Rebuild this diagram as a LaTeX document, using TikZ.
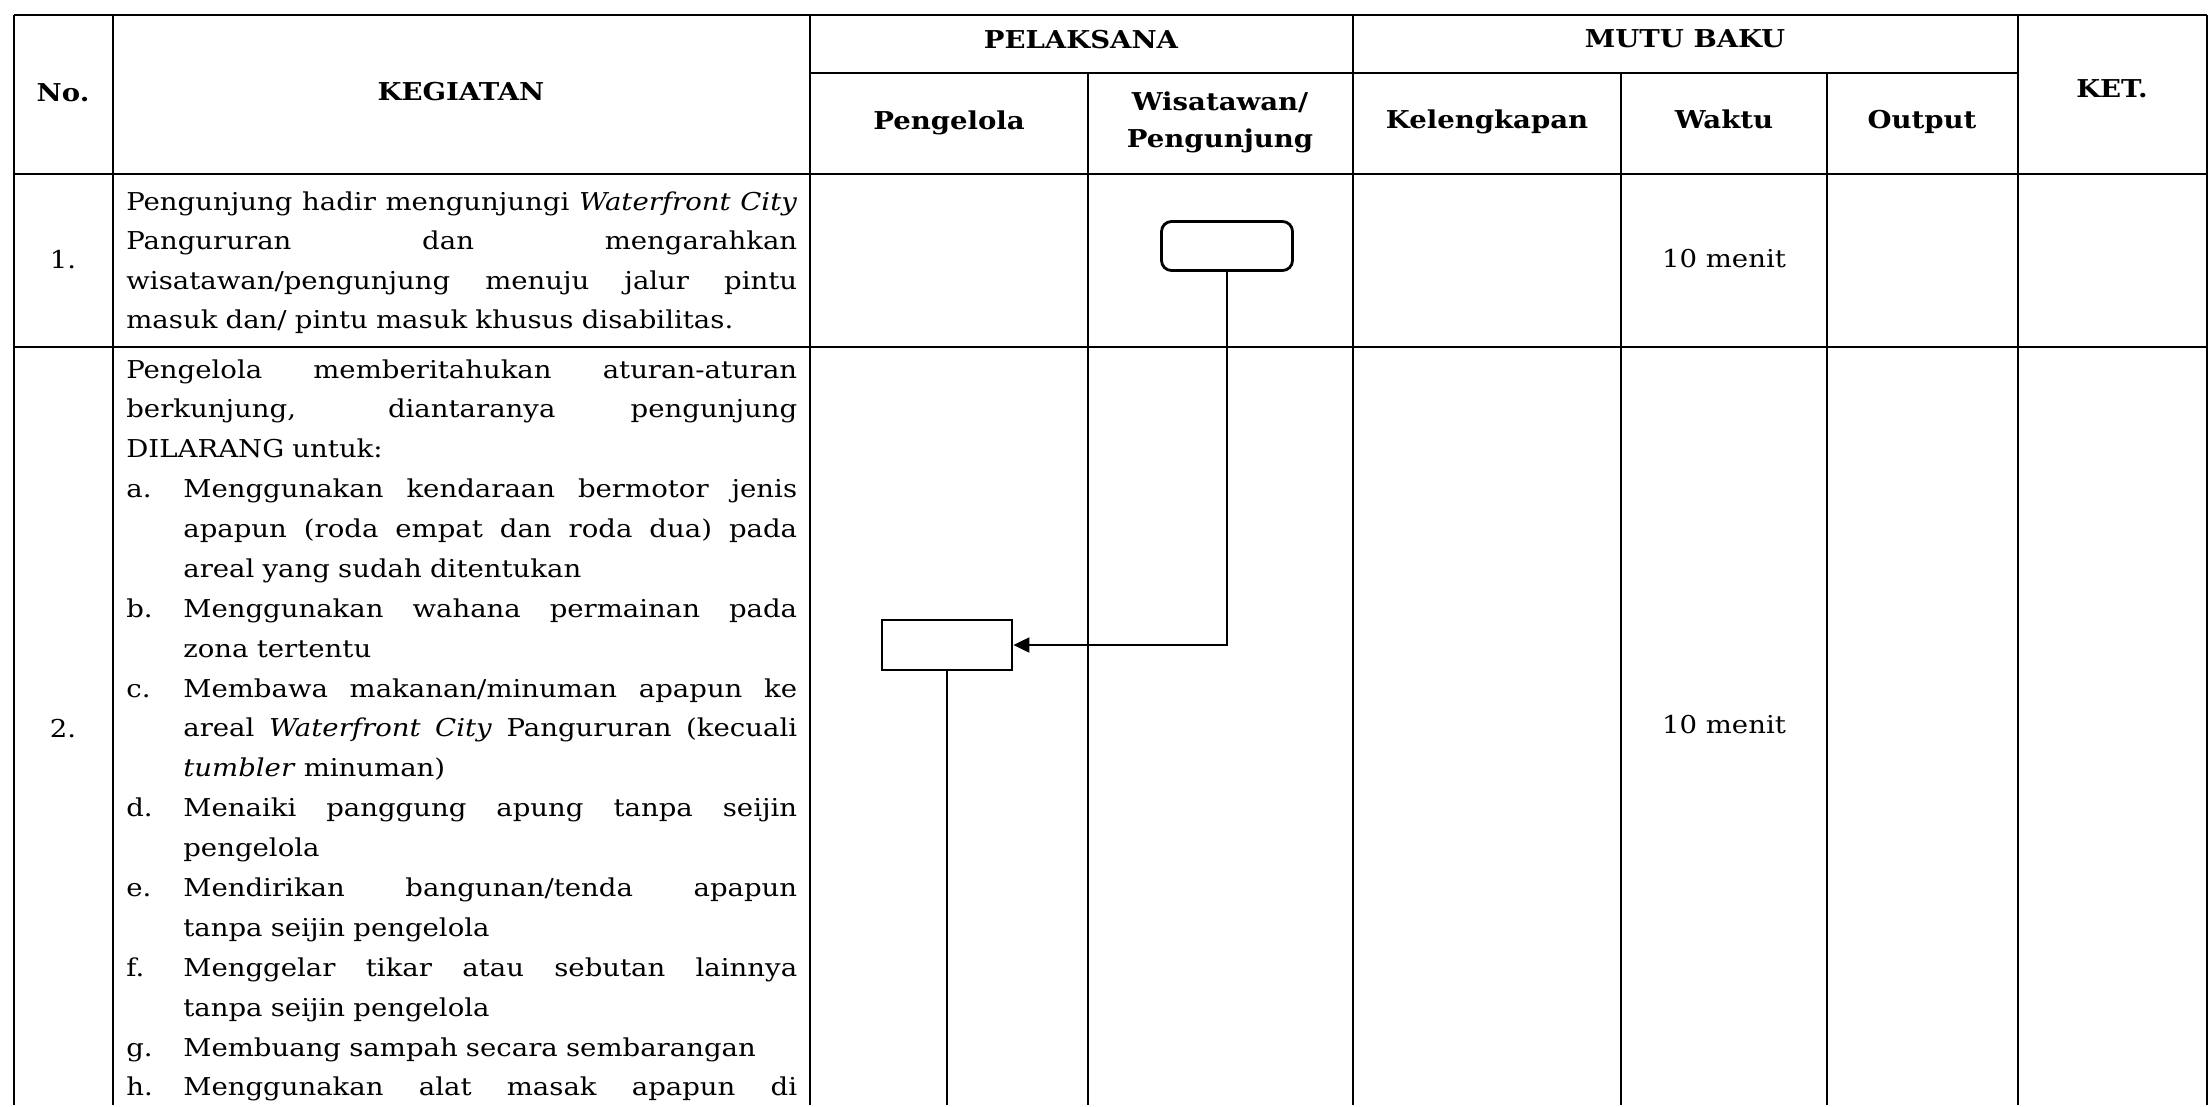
\documentclass[tikz,border=0pt]{standalone}
\usepackage{fontspec}
\setmainfont{DejaVu Serif}[FakeStretch=1.12]
\usetikzlibrary{arrows.meta}

\newcommand{\jline}[1]{\makebox[\linewidth][s]{\spaceskip=\fontdimen2\font plus 1fil\relax#1}}
\newcommand{\itemlab}[1]{\makebox[1.14cm][l]{#1}}
\newcommand{\itemjust}[1]{\makebox[12.28cm][s]{\spaceskip=\fontdimen2\font plus 1fil\relax#1}}
\newcommand{\itemgap}{\hspace*{1.14cm}}

\begin{document}
\begin{tikzpicture}[x=0.02cm, y=-0.02cm,
    tbl/.style={line width=1pt},
    head/.style={font={\fontsize{14}{21.5}\selectfont\bfseries}, anchor=base, inner sep=0pt},
    body/.style={anchor=base west, inner sep=0pt, text width=13.42cm},
    cell/.style={font={\fontsize{14}{22.7}\selectfont}, anchor=base, inner sep=0pt},
    terminal/.style={draw, line width=1.6pt, rounded corners=0.2cm, minimum width=2.62cm, minimum height=0.98cm, inner sep=0pt},
    process/.style={draw, line width=1.6pt, minimum width=2.6cm, minimum height=1cm, inner sep=0pt},
    flow/.style={line width=1.2pt}]

    \fill[white] (0,0) rectangle (2210,1105);

    % Table grid
    \foreach \x in {14, 113, 810, 1353, 2018, 2207} {
      \draw[tbl] (\x,15) -- (\x,1105);
    }
    \foreach \x in {1088, 1621, 1827} {
      \draw[tbl] (\x,73) -- (\x,1105);
    }
    \draw[tbl] (14,15) -- (2207,15);
    \draw[tbl] (810,73) -- (2018,73);
    \draw[tbl] (14,174) -- (2207,174);
    \draw[tbl] (14,347) -- (2207,347);

    % Header
    \node[head] (no) at (63,101) {No.};
    \node[head] (keg) at (461,100) {KEGIATAN};
    \node[head] (pel) at (1081,48) {PELAKSANA};
    \node[head] (mutu) at (1685,47) {MUTU BAKU};
    \node[head] (ket) at (2112,97) {KET.};
    \node[head] (pgl) at (949,129) {Pengelola};
    \node[head, text width=5cm, align=center] (wis) at (1220,110) {Wisatawan/\\Pengunjung};
    \node[head] (kel) at (1487,128) {Kelengkapan};
    \node[head] (wkt) at (1724,128) {Waktu};
    \node[head] (out) at (1922,128) {Output};

    % Row 1
    \node[cell] (n1) at (63,268) {1.};
    \node[body, font={\fontsize{14}{22.5}\selectfont}] (act1) at (126,210) {%
      \jline{Pengunjung hadir mengunjungi \textit{Waterfront City}}\\%
      \jline{Pangururan dan mengarahkan}\\%
      \jline{wisatawan/pengunjung menuju jalur pintu}\\%
      masuk dan/ pintu masuk khusus disabilitas.};
    \node[cell] (t1) at (1724,267) {10 menit};

    % Row 2
    \node[cell] (n2) at (63,737) {2.};
    \node[body, font={\fontsize{14}{22.7}\selectfont}] (act2) at (126,378) {%
      \jline{Pengelola memberitahukan aturan-aturan}\\%
      \jline{berkunjung, diantaranya pengunjung}\\%
      DILARANG untuk:\\%
      \itemlab{a.}\itemjust{Menggunakan kendaraan bermotor jenis}\\%
      \itemgap\itemjust{apapun (roda empat dan roda dua) pada}\\%
      \itemgap areal yang sudah ditentukan\\%
      \itemlab{b.}\itemjust{Menggunakan wahana permainan pada}\\%
      \itemgap zona tertentu\\%
      \itemlab{c.}\itemjust{Membawa makanan/minuman apapun ke}\\%
      \itemgap\itemjust{areal \textit{Waterfront City} Pangururan (kecuali}\\%
      \itemgap\textit{tumbler} minuman)\\%
      \itemlab{d.}\itemjust{Menaiki panggung apung tanpa seijin}\\%
      \itemgap pengelola\\%
      \itemlab{e.}\itemjust{Mendirikan bangunan/tenda apapun}\\%
      \itemgap tanpa seijin pengelola\\%
      \itemlab{f.}\itemjust{Menggelar tikar atau sebutan lainnya}\\%
      \itemgap tanpa seijin pengelola\\%
      \itemlab{g.}Membuang sampah secara sembarangan\\%
      \itemlab{h.}\itemjust{Menggunakan alat masak apapun di}};
    \node[cell] (t2) at (1724,733) {10 menit};

    % Flow
    \node[terminal] (start) at (1227,246) {};
    \node[process] (inform) at (947,645) {};
    \coordinate (cont) at (947,1105);
    \draw[flow, -{Triangle[length=0.32cm, width=0.3cm]}] (start.south) |- (inform.east);
    \draw[flow] (inform.south) -- (cont);
  \end{tikzpicture}
\end{document}
